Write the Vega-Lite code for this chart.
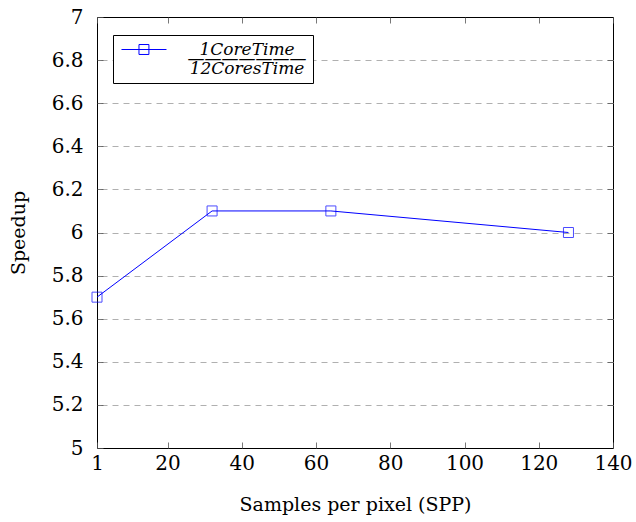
{
  "$schema": "https://vega.github.io/schema/vega-lite/v6.json",
  "autosize": "none",
  "width": 516,
  "height": 431,
  "padding": {"left": 97, "top": 17, "right": 23, "bottom": 74},
  "background": "white",
  "config": {
    "view": {"stroke": "black", "strokeWidth": 1},
    "font": "DejaVu Serif",
    "axis": {
      "labelFont": "DejaVu Serif",
      "titleFont": "DejaVu Serif",
      "labelFontSize": 20,
      "titleFontSize": 19,
      "titleFontWeight": "normal",
      "labelColor": "black",
      "titleColor": "black",
      "domain": false,
      "tickColor": "#555",
      "tickWidth": 0.8
    }
  },
  "data": {
    "values": [
      {"spp": 1, "speedup": 5.7, "series": "s"},
      {"spp": 32, "speedup": 6.1, "series": "s"},
      {"spp": 64, "speedup": 6.1, "series": "s"},
      {"spp": 128, "speedup": 6.0, "series": "s"}
    ]
  },
  "layer": [
    {
      "mark": {"type": "line", "strokeWidth": 1, "clip": true},
      "encoding": {
        "x": {
          "field": "spp", "type": "quantitative",
          "scale": {"domain": [1, 140], "nice": false, "zero": false},
          "axis": {
            "values": [1, 20, 40, 60, 80, 100, 120, 140],
            "title": "Samples per pixel (SPP)",
            "tickSize": -6, "labelPadding": 11, "titlePadding": 22,
            "grid": false, "labelFlush": false
          }
        },
        "y": {
          "field": "speedup", "type": "quantitative",
          "scale": {"domain": [5, 7], "nice": false, "zero": false},
          "axis": {
            "values": [5, 5.2, 5.4, 5.6, 5.8, 6, 6.2, 6.4, 6.6, 6.8, 7],
            "format": "~g",
            "title": "Speedup",
            "tickSize": -6, "labelPadding": 20, "titlePadding": 23,
            "grid": false,
            "labelFlush": false
          }
        },
        "color": {
          "field": "series", "type": "nominal",
          "scale": {"range": ["#0000ff"]},
          "legend": {
            "title": null,
            "orient": "none",
            "legendX": 16,
            "legendY": 18,
            "direction": "vertical",
            "padding": 6,
            "strokeColor": "black",
            "fillColor": "white",
            "cornerRadius": 0,
            "symbolType": "M-0.86,0H5.57M1.64,-0.71H3.06V0.71H1.64Z",
            "symbolSize": 196,
            "symbolStrokeWidth": 1,
            "symbolFillColor": "transparent",
            "symbolStrokeColor": "#0000ff",
            "labelFont": "DejaVu Serif",
            "labelFontStyle": "italic",
            "labelFontSize": 17,
            "labelColor": "black",
            "labelAlign": "center",
            "labelOffset": 111,
            "labelExpr": "['1CoreTime', '\u2014\u2014\u2014\u2014\u2014\u2014\u2014', '12CoresTime']",
            "encode": {"labels": {"update": {"lineHeight": {"value": 9.5}}}}
          }
        }
      }
    },
    {
      "mark": {"type": "point", "shape": "square", "filled": false, "size": 100, "strokeWidth": 1},
      "encoding": {
        "x": {
          "field": "spp", "type": "quantitative",
          "axis": {"orient": "top", "values": [1, 20, 40, 60, 80, 100, 120, 140], "labels": false, "title": null, "tickSize": -6, "grid": false}
        },
        "y": {
          "field": "speedup", "type": "quantitative",
          "axis": {"orient": "right", "values": [5.2, 5.4, 5.6, 5.8, 6, 6.2, 6.4, 6.6, 6.8], "labels": false, "title": null, "tickSize": -6,
            "grid": true, "gridColor": "#b0b0b0", "gridDash": [6, 5], "gridWidth": 1}
        },
        "color": {"field": "series", "type": "nominal"}
      }
    }
  ],
  "resolve": {"axis": {"x": "independent", "y": "independent"}}
}
